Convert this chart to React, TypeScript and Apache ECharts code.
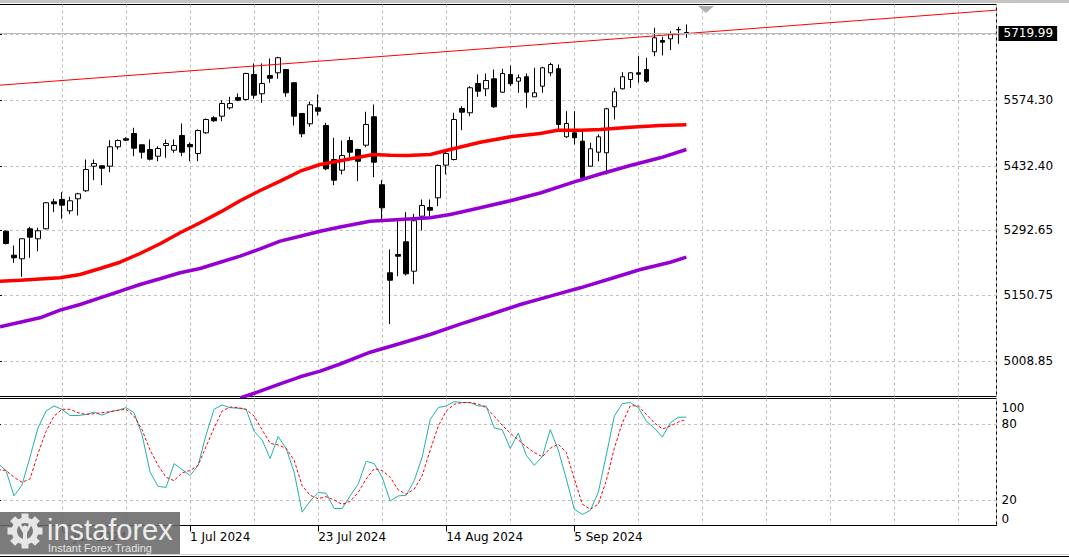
import React, { useEffect, useRef } from "react";
import * as echarts from "echarts";

// ---- candles (bar index starts at FIRST_BAR) ----
const FIRST_BAR = 1;
const opens = [5290.4, 5238.2, 5230.4, 5295.6, 5273.9, 5295.6, 5354.2, 5359.2, 5334.7, 5360.8, 5378.1, 5431.6, 5432.4, 5431.6, 5473.7, 5491.1, 5502.6, 5478.1, 5467.9, 5453.3, 5476.5, 5466.3, 5498.3, 5478.7, 5459.2, 5504.1, 5536.7, 5540.2, 5558.4, 5580.8, 5576.5, 5630.8, 5588.9, 5628.6, 5634.5, 5641.6, 5612.8, 5546.1, 5523.7, 5558.4, 5520.0, 5446.1, 5422.9, 5487.4, 5467.9, 5477.2, 5538.9, 5391.2, 5200.0, 5239.8, 5267.4, 5203.5, 5323.0, 5341.9, 5362.9, 5433.8, 5446.1, 5556.9, 5547.6, 5611.2, 5599.7, 5621.4, 5592.3, 5630.8, 5616.2, 5625.8, 5582.3, 5605.4, 5634.5, 5643.2, 5495.4, 5504.1, 5485.9, 5431.6, 5462.0, 5460.7, 5560.6, 5599.7, 5619.9, 5634.5, 5641.6, 5680.1, 5704.6, 5708.3, 5727.9, 5722.0];
const closes = [5263.7, 5232.6, 5273.9, 5277.3, 5291.3, 5352.1, 5349.9, 5346.9, 5356.4, 5371.6, 5424.4, 5437.4, 5427.2, 5473.7, 5487.4, 5488.1, 5470.7, 5462.0, 5446.8, 5470.0, 5480.9, 5476.5, 5462.0, 5473.7, 5509.1, 5533.0, 5530.2, 5567.8, 5567.8, 5575.0, 5633.0, 5585.8, 5611.2, 5622.7, 5667.1, 5591.0, 5540.2, 5502.0, 5565.0, 5551.1, 5425.9, 5401.2, 5454.8, 5462.0, 5442.4, 5522.2, 5440.3, 5341.2, 5183.9, 5236.1, 5197.8, 5313.0, 5346.2, 5336.0, 5433.1, 5459.2, 5533.0, 5548.9, 5601.9, 5594.5, 5617.7, 5560.6, 5633.0, 5610.6, 5623.6, 5592.3, 5591.0, 5645.3, 5652.5, 5522.2, 5524.3, 5493.3, 5406.4, 5469.4, 5495.4, 5556.3, 5593.2, 5625.8, 5634.5, 5631.4, 5616.2, 5710.5, 5700.9, 5719.2, 5728.5, 5719.99];
const lows = [5261.5, 5221.7, 5191.3, 5232.6, 5246.9, 5294.1, 5331.7, 5317.3, 5327.3, 5324.5, 5376.0, 5401.2, 5390.3, 5418.5, 5467.9, 5485.9, 5453.3, 5448.3, 5444.0, 5442.4, 5449.8, 5460.7, 5453.3, 5442.4, 5442.4, 5502.0, 5528.0, 5529.3, 5554.8, 5572.8, 5574.3, 5578.0, 5569.3, 5612.8, 5621.4, 5582.3, 5520.0, 5494.6, 5517.2, 5541.7, 5422.9, 5390.3, 5413.6, 5449.8, 5399.0, 5472.9, 5407.7, 5315.8, 5088.6, 5192.6, 5194.2, 5175.3, 5291.9, 5323.0, 5344.7, 5413.6, 5444.0, 5509.8, 5540.2, 5582.3, 5583.6, 5558.4, 5591.0, 5605.4, 5591.0, 5558.4, 5582.3, 5591.0, 5627.1, 5511.3, 5493.3, 5478.7, 5399.0, 5430.3, 5442.4, 5413.6, 5533.0, 5598.2, 5601.9, 5612.8, 5612.8, 5670.5, 5672.1, 5683.6, 5697.5, 5710.5];
const highs = [5291.9, 5259.3, 5274.5, 5299.9, 5297.8, 5353.4, 5360.8, 5375.1, 5365.1, 5373.8, 5446.1, 5446.1, 5433.1, 5488.1, 5489.6, 5494.6, 5515.0, 5478.1, 5489.6, 5475.0, 5489.6, 5489.6, 5524.3, 5483.1, 5511.3, 5535.2, 5540.2, 5575.0, 5582.3, 5589.5, 5634.5, 5654.7, 5654.7, 5665.5, 5669.2, 5641.6, 5614.1, 5546.1, 5572.1, 5587.3, 5525.9, 5493.3, 5487.4, 5495.4, 5469.4, 5549.8, 5565.6, 5401.2, 5250.6, 5315.8, 5331.7, 5328.2, 5359.2, 5359.2, 5435.3, 5467.9, 5547.6, 5561.9, 5605.4, 5630.8, 5633.0, 5641.6, 5643.2, 5650.3, 5630.8, 5633.0, 5645.3, 5647.5, 5656.2, 5652.5, 5551.1, 5551.1, 5511.3, 5482.4, 5500.4, 5558.4, 5601.9, 5635.8, 5635.8, 5670.5, 5667.1, 5732.2, 5712.7, 5724.8, 5734.4, 5739.4];

// ---- moving averages (bar position, value) ----
const maRedIdx = [0.25, 2.75, 7.75, 10.25, 12.75, 15.25, 17.75, 20.25, 22.75, 25.25, 27.75, 30.25, 32.75, 35.25, 37.75, 40.25, 42.75, 45.25, 46.9, 49, 51.1, 54, 56.5, 60.25, 64, 67.75, 69.9, 72.75, 75.25, 79, 82.75, 86];
const maRedVal = [5181.8, 5183.9, 5189.2, 5196.3, 5209.4, 5223.0, 5241.9, 5263.0, 5286.9, 5308.6, 5331.7, 5356.4, 5378.8, 5399.0, 5420.7, 5435.3, 5443.5, 5451.6, 5457.0, 5455.5, 5454.8, 5457.0, 5467.9, 5483.7, 5495.4, 5502.6, 5509.8, 5509.8, 5511.3, 5516.3, 5520.0, 5521.5];
const maPurpleIdx = [0.25, 2.75, 5.25, 7.75, 10.25, 12.75, 15.25, 17.75, 20.25, 22.75, 25.25, 27.75, 30.25, 32.75, 35.25, 37.75, 40.25, 42.75, 46.5, 50.25, 54, 56.5, 60.25, 64, 67.75, 71.9, 75.25, 79, 82.75, 86];
const maPurpleVal = [5082.7, 5092.7, 5102.3, 5118.8, 5131.2, 5145.7, 5160.0, 5174.6, 5187.0, 5200.0, 5209.4, 5223.0, 5236.1, 5252.2, 5268.7, 5279.5, 5290.4, 5299.5, 5312.1, 5315.8, 5319.5, 5326.7, 5341.2, 5356.4, 5373.4, 5396.8, 5414.6, 5433.1, 5449.8, 5467.9];
const maLowIdx = [30.25, 32.75, 35.25, 37.75, 40.25, 42.75, 46.5, 50.25, 54, 57.75, 61.5, 65.25, 69, 72.75, 76.5, 80.25, 84, 86];
const maLowVal = [4928.0, 4942.8, 4958.9, 4974.1, 4986.3, 5001.9, 5027.5, 5046.4, 5066.0, 5088.6, 5109.4, 5131.2, 5149.2, 5167.4, 5187.0, 5207.2, 5223.0, 5233.9];

// ---- trend line ----
const trendIdx = [0, 124.75];
const trendVal = [5607.2, 5770.5];

// ---- stochastic (bar index starts at 0) ----
const stochMain = [48.7, 43.3, 23.3, 31.8, 54.0, 76.8, 90.1, 94.1, 91.5, 86.6, 86.6, 87.4, 89.3, 86.9, 89.6, 90.7, 92.8, 88.8, 71.4, 42.0, 30.8, 30.0, 48.7, 44.1, 39.3, 47.4, 71.4, 91.5, 94.9, 92.8, 92.3, 91.5, 74.1, 67.4, 52.7, 70.1, 60.7, 42.0, 10.5, 19.3, 26.0, 25.4, 13.4, 13.4, 23.3, 32.6, 50.6, 48.7, 38.0, 19.3, 23.3, 23.8, 35.3, 54.0, 83.4, 92.8, 94.1, 97.6, 96.8, 96.8, 94.1, 94.1, 76.8, 75.4, 60.7, 72.7, 55.4, 47.4, 54.1, 75.5, 59.5, 36.8, 12.8, 8.7, 11.9, 26.1, 55.5, 86.1, 96.0, 96.8, 92.8, 82.1, 76.8, 69.6, 80.8, 85.3, 85.3];
const stochSignal = [44.0, 43.3, 38.0, 34.0, 36.7, 56.7, 74.1, 86.1, 91.5, 91.5, 88.8, 87.4, 88.0, 88.8, 89.6, 90.7, 91.5, 86.1, 75.4, 59.4, 47.4, 38.0, 35.3, 41.5, 43.3, 47.4, 62.1, 76.8, 90.1, 93.3, 92.8, 91.5, 86.1, 75.4, 64.7, 63.4, 60.7, 51.4, 31.3, 23.8, 21.1, 22.7, 20.1, 16.6, 19.0, 26.0, 36.7, 44.7, 43.3, 38.0, 28.1, 24.6, 28.6, 39.3, 59.4, 78.1, 90.1, 95.5, 96.8, 96.8, 95.5, 92.8, 86.1, 78.9, 72.7, 67.4, 62.1, 57.4, 54.1, 60.8, 64.0, 57.6, 36.8, 16.8, 12.8, 16.8, 35.4, 60.8, 80.8, 94.2, 94.2, 87.5, 80.8, 76.0, 78.3, 81.5, 83.5];

// ---- axes ----
const priceLabelValues = [5008.85, 5150.75, 5292.65, 5432.4, 5574.3];
const priceGridValues = [5008.85, 5150.75, 5292.65, 5432.4, 5574.3, 5717.7];
const dateTickIdx = [8, 24, 40, 56, 72];
const dateTickLabels = ["7 Jun 2024", "1 Jul 2024", "23 Jul 2024", "14 Aug 2024", "5 Sep 2024"];
const stochLevels = [20, 80];
const stochLabelValues = [0, 20, 80, 100];

const X_MIN = 0;
const X_MAX = 124.75;
const FONT = "DejaVu Sans";
const LOGO_FILL = "#e6e6e6";

export default function App() {
  const ref = useRef<HTMLDivElement>(null);

  useEffect(() => {
    if (!ref.current) return;
    const chart = echarts.init(ref.current, undefined, { renderer: "svg" });
    const gridLine = { show: true, lineStyle: { color: "#c0c0c0", type: [3, 3] as any, width: 1 } };
    const lastClose = closes[closes.length - 1];

    const teeth = Array.from({ length: 8 }, (_, i) => ({
      type: "rect",
      z: 101,
      shape: { x: -3.5, y: -17.5, width: 7, height: 6 },
      rotation: (i * Math.PI) / 4,
      style: { fill: LOGO_FILL },
    }));

    const option: any = {
      animation: false,
      textStyle: { fontFamily: FONT },
      grid: [
        { left: -2, top: 4.5, width: 998.5, height: 392, show: true, borderColor: "#000", borderWidth: 1, backgroundColor: "transparent", outerBoundsMode: "none" },
        { left: -2, top: 398.5, width: 998.5, height: 127, show: true, borderColor: "#000", borderWidth: 1, backgroundColor: "transparent", outerBoundsMode: "none" },
      ],
      xAxis: [
        {
          gridIndex: 0, type: "value", min: X_MIN, max: X_MAX, interval: 8,
          axisLine: { show: false }, axisTick: { show: false }, axisLabel: { show: false },
          splitLine: gridLine,
        },
        {
          gridIndex: 1, type: "value", min: X_MIN, max: X_MAX, interval: 8, position: "top",
          axisLine: { show: false }, axisTick: { show: false }, axisLabel: { show: false },
          splitLine: gridLine,
        },
        {
          gridIndex: 1, type: "value", min: X_MIN, max: X_MAX, position: "bottom",
          axisLine: { show: true, lineStyle: { color: "#000", width: 1 } },
          axisTick: { show: true, customValues: dateTickIdx, length: 6, lineStyle: { color: "#000" } },
          axisLabel: {
            show: true, customValues: dateTickIdx, align: "left", margin: 5,
            color: "#000", fontSize: 12, fontFamily: FONT,
            formatter: (v: number) => {
              const i = dateTickIdx.indexOf(Math.round(v));
              return i >= 0 ? dateTickLabels[i] : "";
            },
          },
          splitLine: { show: false },
        },
      ],
      yAxis: [
        {
          gridIndex: 0, type: "value", position: "right", min: 4931.3, max: 5782.8,
          axisLine: { show: true, lineStyle: { color: "#000" } },
          axisTick: { show: true, customValues: priceGridValues, length: 4, lineStyle: { color: "#000" } },
          axisLabel: {
            show: true, customValues: priceLabelValues, margin: 7, color: "#000", fontSize: 12, fontFamily: FONT,
            formatter: (v: number) => v.toFixed(2),
          },
          splitLine: gridLine,
        },
        {
          gridIndex: 1, type: "value", position: "right", min: 0, max: 100,
          axisLine: { show: true, lineStyle: { color: "#000" } },
          axisTick: { show: true, customValues: stochLevels, length: 3, lineStyle: { color: "#000" } },
          axisLabel: {
            show: true, customValues: stochLabelValues, margin: 5, color: "#000", fontSize: 12, fontFamily: FONT,
            formatter: (v: number) => (v === 100 ? "{t|100}" : v === 0 ? "{b|0}" : "{m|" + v + "}"),
            rich: {
              t: { padding: [19, 0, 0, 0], fontSize: 12, color: "#000", fontFamily: FONT },
              b: { padding: [0, 0, 13, 0], fontSize: 12, color: "#000", fontFamily: FONT },
              m: { fontSize: 12, color: "#000", fontFamily: FONT },
            },
          },
          splitLine: gridLine,
        },
      ],
      series: [
        {
          type: "candlestick", xAxisIndex: 0, yAxisIndex: 0, silent: true,
          encode: { x: 0, y: [1, 2, 3, 4] },
          data: opens.map((o, i) => [i + FIRST_BAR, o, closes[i], lows[i], highs[i]]),
          barWidth: 5,
          itemStyle: { color: "#ffffff", color0: "#000000", borderColor: "#000000", borderColor0: "#000000", borderColorDoji: "#000000", borderWidth: 1 },
          markLine: {
            silent: true, symbol: ["none", "none"], animation: false,
            lineStyle: { color: "#b8b8b8", type: "solid", width: 1 },
            label: {
              show: true, position: "end", distance: 2,
              formatter: (p: any) => Number(p.value).toFixed(2),
              color: "#fff", backgroundColor: "#000", padding: [2, 4, 1, 5], fontSize: 12, fontFamily: FONT,
            },
            emphasis: { disabled: true },
            data: [{ yAxis: lastClose }],
          },
        },
        {
          type: "line", xAxisIndex: 0, yAxisIndex: 0, silent: true, showSymbol: false, symbol: "none",
          data: maLowIdx.map((x, i) => [x, maLowVal[i]]),
          lineStyle: { color: "#9400d3", width: 3.5 },
        },
        {
          type: "line", xAxisIndex: 0, yAxisIndex: 0, silent: true, showSymbol: false, symbol: "none",
          data: maPurpleIdx.map((x, i) => [x, maPurpleVal[i]]),
          lineStyle: { color: "#9400d3", width: 3.5 },
        },
        {
          type: "line", xAxisIndex: 0, yAxisIndex: 0, silent: true, showSymbol: false, symbol: "none",
          data: maRedIdx.map((x, i) => [x, maRedVal[i]]),
          lineStyle: { color: "#ff0000", width: 3.5 },
        },
        {
          type: "line", xAxisIndex: 0, yAxisIndex: 0, silent: true, showSymbol: false, symbol: "none",
          data: trendIdx.map((x, i) => [x, trendVal[i]]),
          lineStyle: { color: "#ff0000", width: 1 },
        },
        {
          type: "line", xAxisIndex: 2, yAxisIndex: 1, silent: true, showSymbol: false, symbol: "none",
          data: stochMain.map((v, i) => [i, v]),
          lineStyle: { color: "#20b2aa", width: 1 },
        },
        {
          type: "line", xAxisIndex: 2, yAxisIndex: 1, silent: true, showSymbol: false, symbol: "none",
          data: stochSignal.map((v, i) => [i, v]),
          lineStyle: { color: "#ff0000", width: 1, type: [3, 2] },
        },
      ],
      graphic: [
        { type: "rect", shape: { x: 0, y: 0, width: 1069, height: 3 }, style: { fill: "#c4c4c4" }, z: 50 },
        { type: "polygon", shape: { points: [[698, 6], [714, 6], [706, 13]] }, style: { fill: "#b0b0b0" }, z: 50 },
        { type: "rect", shape: { x: 0, y: 554, width: 1069, height: 1 }, style: { fill: "#d0d0d0" }, z: 50 },
        { type: "rect", shape: { x: 0, y: 556, width: 1069, height: 1 }, style: { fill: "#000" }, z: 50 },
        { type: "rect", shape: { x: 0, y: 512, width: 180, height: 42 }, style: { fill: "rgba(105,105,105,0.88)" }, z: 100 },
        {
          type: "group", x: 25, y: 531, z: 101,
          children: [
            { type: "ring", z: 101, shape: { cx: 0, cy: 0, r: 13.5, r0: 8 }, style: { fill: LOGO_FILL } },
            ...teeth,
            { type: "circle", z: 101, shape: { cx: 0, cy: -3, r: 2.6 }, style: { fill: LOGO_FILL } },
            { type: "polygon", z: 101, shape: { points: [[-7, -7], [-4, -7], [0, 0], [4, -7], [7, -7], [2, 2], [2, 15], [-2, 15], [-2, 2]] }, style: { fill: LOGO_FILL } },
          ],
        },
        { type: "text", x: 47, y: 530, z: 101, style: { text: "instaforex", fill: "#ececec", font: "29px 'Liberation Sans', Arial, sans-serif", verticalAlign: "middle", align: "left" } },
        { type: "text", x: 48, y: 548, z: 101, style: { text: "Instant Forex Trading", fill: "#e2e2e2", font: "11px 'Liberation Sans', Arial, sans-serif", verticalAlign: "middle", align: "left" } },
      ],
    };

    chart.setOption(option);
    return () => chart.dispose();
  }, []);

  return (
    <div
      ref={ref}
      style={{ position: "fixed", left: 0, top: 0, width: 1069, height: 557, background: "#fff" }}
    />
  );
}
